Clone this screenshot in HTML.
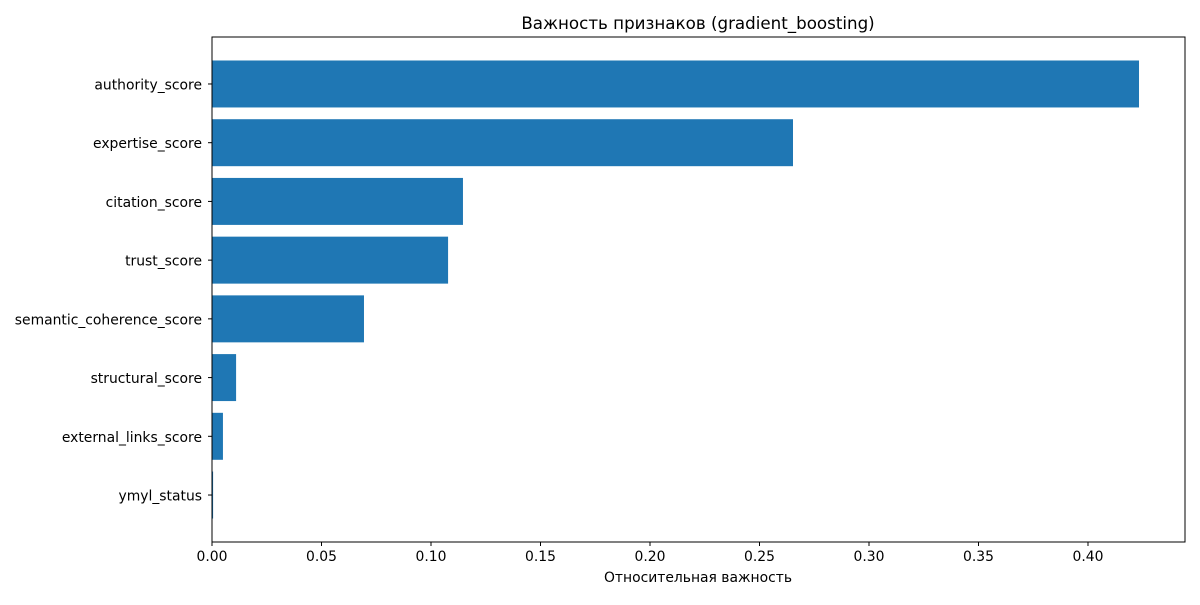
<!DOCTYPE html>
<html><head><meta charset="utf-8"><style>
body{margin:0;background:#fff;font-family:"Liberation Sans","DejaVu Sans",sans-serif;}
svg text{font-family:"DejaVu Sans","Liberation Sans",sans-serif;}
</style></head><body>
<svg id="chart" width="1200" height="600" xmlns="http://www.w3.org/2000/svg">
<rect width="1200" height="600" fill="#fff"/>
<text x="698" y="29" font-size="16.7" text-anchor="middle">Важность признаков (gradient_boosting)</text>
<g id="bars"></g><g id="yt"></g><g id="xt"></g>
<rect x="212" y="37" width="973" height="505" fill="none" stroke="#000" stroke-width="1"/>
<text x="698" y="582" font-size="13.9" text-anchor="middle">Относительная важность</text>
</svg>
<script>
const categories=["authority_score","expertise_score","citation_score","trust_score","semantic_coherence_score","structural_score","external_links_score","ymyl_status"];
const values=[0.4233,0.2653,0.1146,0.1078,0.0694,0.011,0.005,0.0005];
const xTicks=[0,0.05,0.1,0.15,0.2,0.25,0.3,0.35,0.4];
const xTickLabels=["0.00","0.05","0.10","0.15","0.20","0.25","0.30","0.35","0.40"];
const L=212,R=1185,T=37,B=542,xMax=0.4443;
const NS="http://www.w3.org/2000/svg";
const x=v=>L+v/xMax*(R-L);
const n=categories.length;
const y=i=>{const idx=n-1-i;return B-(idx+0.8)/(n+0.6)*(B-T);};
const step=(B-T)/(n+0.6);
const bars=document.getElementById('bars'),yt=document.getElementById('yt'),xt=document.getElementById('xt');
categories.forEach((c,i)=>{
 const r=document.createElementNS(NS,'rect');
 
 
 r.setAttribute('x',L);r.setAttribute('y',y(i)-step*0.4);
 r.setAttribute('width',Math.max(x(values[i])-L,0.5));r.setAttribute('height',step*0.8);
 r.setAttribute('fill','#1f77b4');bars.appendChild(r);
 const t=document.createElementNS(NS,'line');
 
 
 t.setAttribute('x1',L-4);t.setAttribute('x2',L);t.setAttribute('y1',y(i));t.setAttribute('y2',y(i));t.setAttribute('stroke','#000');yt.appendChild(t);
 const l=document.createElementNS(NS,'text');
 
 
 l.setAttribute('x',L-10);l.setAttribute('y',y(i)+5.5);l.setAttribute('font-size','13.9');l.setAttribute('text-anchor','end');l.textContent=c;yt.appendChild(l);
});
xTicks.forEach((v,i)=>{
 const t=document.createElementNS(NS,'line');
 
 
 t.setAttribute('x1',x(v));t.setAttribute('x2',x(v));t.setAttribute('y1',B);t.setAttribute('y2',B+4);t.setAttribute('stroke','#000');xt.appendChild(t);
 const l=document.createElementNS(NS,'text');
 
 
 l.setAttribute('x',x(v));l.setAttribute('y',B+19);l.setAttribute('font-size','13.9');l.setAttribute('text-anchor','middle');l.textContent=xTickLabels[i];xt.appendChild(l);
});
</script>
</body></html>
